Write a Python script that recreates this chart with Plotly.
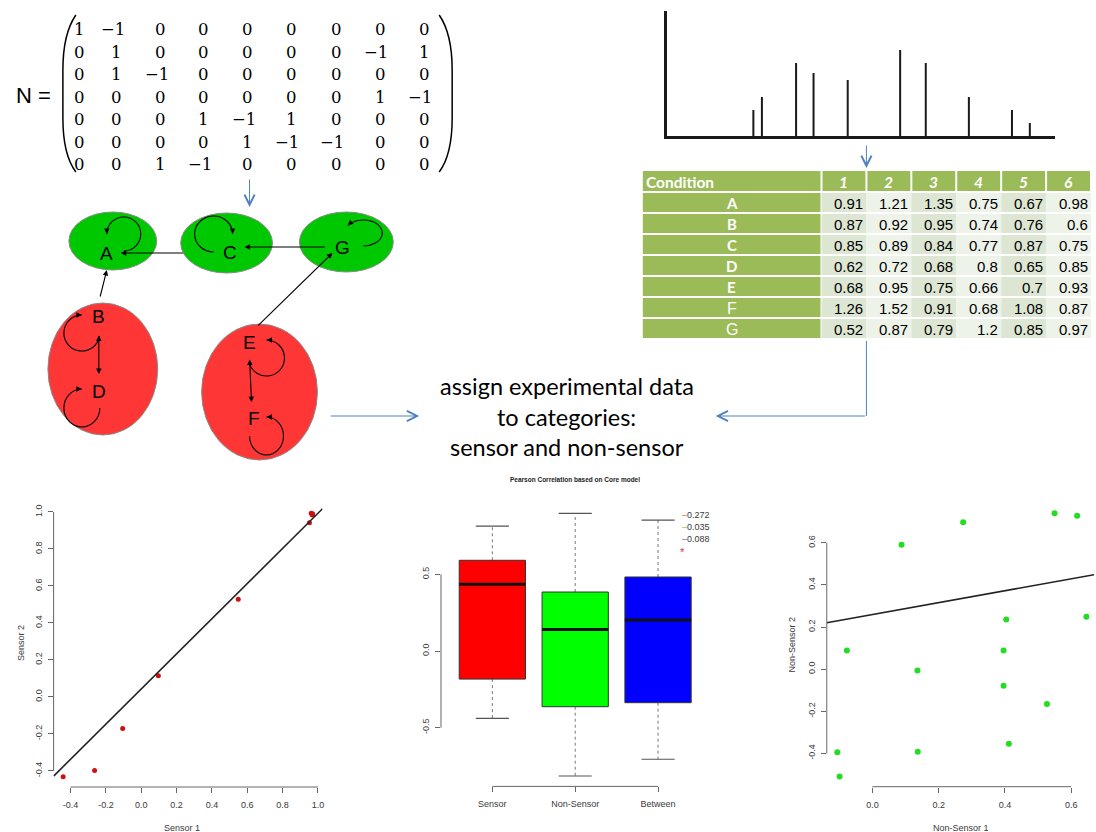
import math
import numpy as np
import plotly.graph_objects as go

W, H = 1096, 832

# ---------------------------------------------------------------- data
N_matrix = [
    [1, -1, 0, 0, 0, 0, 0, 0, 0],
    [0, 1, 0, 0, 0, 0, 0, -1, 1],
    [0, 1, -1, 0, 0, 0, 0, 0, 0],
    [0, 0, 0, 0, 0, 0, 0, 1, -1],
    [0, 0, 0, 1, -1, 1, 0, 0, 0],
    [0, 0, 0, 0, 1, -1, -1, 0, 0],
    [0, 0, 1, -1, 0, 0, 0, 0, 0],
]

spectrum_mz = [22.3, 24.5, 33.3, 37.8, 46.6, 60.1, 66.7, 77.8, 88.9, 93.5]
spectrum_intensity = [26, 39, 73, 63, 56, 86, 73, 39, 26, 13]

table_conditions = ["1", "2", "3", "4", "5", "6"]
table_species = ["A", "B", "C", "D", "E", "F", "G"]
table_values = [
    [0.91, 1.21, 1.35, 0.75, 0.67, 0.98],
    [0.87, 0.92, 0.95, 0.74, 0.76, 0.6],
    [0.85, 0.89, 0.84, 0.77, 0.87, 0.75],
    [0.62, 0.72, 0.68, 0.8, 0.65, 0.85],
    [0.68, 0.95, 0.75, 0.66, 0.7, 0.93],
    [1.26, 1.52, 0.91, 0.68, 1.08, 0.87],
    [0.52, 0.87, 0.79, 1.2, 0.85, 0.97],
]

sensor_1 = [-0.442, -0.264, -0.105, 0.097, 0.549, 0.952, 0.962, 0.970, 0.968]
sensor_2 = [-0.431, -0.398, -0.171, 0.115, 0.528, 0.942, 0.993, 0.990, 0.984]
sensor_fit = [0.043, 0.95]          # intercept, slope
sensor_xticks = [-0.4, -0.2, 0.0, 0.2, 0.4, 0.6, 0.8, 1.0]
sensor_xticklabels = ["-0.4", "-0.2", "0.0", "0.2", "0.4", "0.6", "0.8", "1.0"]
sensor_yticks = [-0.4, -0.2, 0.0, 0.2, 0.4, 0.6, 0.8, 1.0]
sensor_yticklabels = ["-0.4", "-0.2", "0.0", "0.2", "0.4", "0.6", "0.8", "1.0"]

box_groups = ["Sensor", "Non-Sensor", "Between"]
box_colors = ["#ff0000", "#00ff00", "#0000ff"]
box_lower = [-0.439, -0.815, -0.706]
box_q1 = [-0.183, -0.363, -0.337]
box_median = [0.435, 0.141, 0.202]
box_q3 = [0.592, 0.385, 0.483]
box_upper = [0.815, 0.898, 0.854]
box_legend_values = ["0.272", "0.035", "0.088"]
box_legend_colors = ["#e06060", "#60d060", "#6060d0"]
box_yticks = [-0.5, 0.0, 0.5]
box_yticklabels = ["-0.5", "0.0", "0.5"]

nonsensor_1 = [0.550, 0.618, 0.274, 0.088, 0.646, 0.404, -0.077, 0.396,
               0.136, 0.396, 0.527, 0.412, 0.137, -0.106, -0.099]
nonsensor_2 = [0.740, 0.728, 0.697, 0.590, 0.249, 0.236, 0.089, 0.089,
               -0.006, -0.079, -0.166, -0.354, -0.392, -0.395, -0.509]
nonsensor_fit = [0.259, 0.283]      # intercept, slope
nonsensor_xticks = [0.0, 0.2, 0.4, 0.6]
nonsensor_xticklabels = ["0.0", "0.2", "0.4", "0.6"]
nonsensor_yticks = [-0.4, -0.2, 0.0, 0.2, 0.4, 0.6]
nonsensor_yticklabels = ["-0.4", "-0.2", "0.0", "0.2", "0.4", "0.6"]

# ---------------------------------------------------------------- layout constants (pixels)
GREEN = "#00c800"
RED = "#ff3636"
BLUE = "#4f81bd"
TBL_GREEN = "#9bbb59"
TBL_DARK = "#dce6d2"
TBL_LIGHT = "#eef3ea"
R_AXIS = "#666666"
R_TEXT = "#3a3a3a"
RFONT = "Liberation Sans"
RSIZE = 9

matrix_col_x = [80, 117, 161, 204, 248, 292, 337, 381, 425]
matrix_row_y = [29, 52, 74, 97, 119, 142, 164]

compartments = [  # cx, cy, rx, ry, colour
    (113, 241, 44, 29, GREEN),
    (227, 243, 46, 30, GREEN),
    (347, 242, 47, 30, GREEN),
    (103, 369, 55, 66, RED),
    (260, 392, 58, 68, RED),
]
species_pos = {"A": (107, 253), "C": (230, 252), "G": (343, 247),
               "B": (99, 316), "D": (99, 391), "E": (250, 342), "F": (254, 418)}
edges = [  # tail, tip, double-headed
    ((185, 253), (121, 253), False),
    ((327, 247), (245, 247), False),
    ((100, 298), (107, 270), False),
    ((257, 327), (333, 253), False),
    ((99, 334), (99, 374), True),
    ((250, 358), (252, 402), True),
]
loops = [  # cx, cy, rx, ry, start angle, end angle (screen degrees)
    (124, 234, 17, 17, 90, -180),
    (214, 234, 19, 18, 90, 360),
    (364, 233, 19, 13, 90, -145),
    (82, 333, 18, 18, 10, 270),
    (82, 408, 18, 19, 0, 270),
    (267, 358, 18, 18, 165, -90),
    (267, 436, 17, 19, 180, -90),
]
blue_arrows = [  # tail, tip
    ((250, 178), (250, 207)),
    ((868, 144), (868, 168)),
    ((330, 416), (420, 416)),
    ((868, 416), (717, 416)),
]
blue_lines = [((868, 341), (868, 416))]

# table geometry
tbl_label_x = (644, 822)
tbl_col_x0 = 823
tbl_col_w = 45
tbl_header_y = (171, 191)
tbl_row_y0 = 193
tbl_row_pitch = 21
tbl_row_h = 19


def dx(a, b):
    return [a / W, b / W]


def dy(top, bottom):
    return [1 - bottom / H, 1 - top / H]


fig = go.Figure()
shapes = []
ann = []


def text(x, y, t, size, family, color="black", **kw):
    d = dict(x=x, y=y, text=t, showarrow=False, xref="x", yref="y",
             font=dict(family=family, size=size, color=color))
    d.update(kw)
    ann.append(d)


# ---------------------------------------------------------------- matrix N
text(34, 95, "N =", 22, "Liberation Sans")
for r, row in enumerate(N_matrix):
    for c, v in enumerate(row):
        txt = ("\u2212" + str(abs(v))) if v < 0 else str(v)
        text(matrix_col_x[c] - (4 if v < 0 else 0), matrix_row_y[r], txt, 16.5, "DejaVu Serif")
shapes.append(dict(type="path", xref="x", yref="y",
                   path="M 76,15 C 67,28 63,45 63,70 L 63,118 C 63,143 67,160 76,172",
                   line=dict(color="black", width=1.5)))
shapes.append(dict(type="path", xref="x", yref="y",
                   path="M 440,15 C 449,28 453,45 453,70 L 453,118 C 453,143 449,160 440,172",
                   line=dict(color="black", width=1.5)))

# ---------------------------------------------------------------- network
for cx, cy, rx, ry, col in compartments:
    shapes.append(dict(type="circle", xref="x", yref="y", x0=cx - rx, x1=cx + rx,
                       y0=cy - ry, y1=cy + ry, fillcolor=col,
                       line=dict(color="#8a8a8a", width=1), layer="below"))
for name, (x, y) in species_pos.items():
    text(x, y, name, 19, "Liberation Sans")
for (tx, ty), (hx, hy), dbl in edges:
    a = dict(x=hx, y=hy, ax=tx, ay=ty, xref="x", yref="y", axref="x", ayref="y",
             text="", showarrow=True, arrowhead=2, arrowsize=1, arrowwidth=1.1,
             arrowcolor="black")
    if dbl:
        a.update(arrowside="end+start", startarrowhead=2, startarrowsize=1)
    ann.append(a)


def arc(cx, cy, rx, ry, a0, a1):
    n = max(1, int(math.ceil(abs(a1 - a0) / 90.0)))
    step = (a1 - a0) / n
    t0 = math.radians(a0)
    path = "M %.2f,%.2f" % (cx + rx * math.cos(t0), cy + ry * math.sin(t0))
    for i in range(n):
        s = math.radians(a0 + i * step)
        e = math.radians(a0 + (i + 1) * step)
        k = 4.0 / 3.0 * math.tan((e - s) / 4.0)
        p1 = (math.cos(s) - k * math.sin(s), math.sin(s) + k * math.cos(s))
        p2 = (math.cos(e) + k * math.sin(e), math.sin(e) - k * math.cos(e))
        p3 = (math.cos(e), math.sin(e))
        path += " C %.2f,%.2f %.2f,%.2f %.2f,%.2f" % (
            cx + rx * p1[0], cy + ry * p1[1], cx + rx * p2[0], cy + ry * p2[1],
            cx + rx * p3[0], cy + ry * p3[1])
    e = math.radians(a1)
    sgn = 1 if a1 > a0 else -1
    d = (-rx * math.sin(e) * sgn, ry * math.cos(e) * sgn)
    L = math.hypot(*d)
    tip = (cx + rx * math.cos(e), cy + ry * math.sin(e))
    tail = (tip[0] - 6 * d[0] / L, tip[1] - 6 * d[1] / L)
    return path, tip, tail


for cx, cy, rx, ry, a0, a1 in loops:
    p, tip, tail = arc(cx, cy, rx, ry, a0, a1)
    shapes.append(dict(type="path", xref="x", yref="y", path=p,
                       line=dict(color="black", width=1.1)))
    ann.append(dict(x=tip[0], y=tip[1], ax=tail[0], ay=tail[1], xref="x", yref="y",
                    axref="x", ayref="y", text="", showarrow=True, arrowhead=2,
                    arrowsize=1, arrowwidth=1.1, arrowcolor="black"))

# blue connectors
for (tx, ty), (hx, hy) in blue_arrows:
    ann.append(dict(x=hx, y=hy, ax=tx, ay=ty, xref="x", yref="y", axref="x", ayref="y",
                    text="", showarrow=True, arrowhead=5, arrowsize=2, arrowwidth=1,
                    arrowcolor=BLUE))
for (x0, y0), (x1, y1) in blue_lines:
    shapes.append(dict(type="line", xref="x", yref="y", x0=x0, y0=y0, x1=x1, y1=y1,
                       line=dict(color=BLUE, width=1)))

# central text
for txt, y in [("assign experimental data", 386), ("to categories:", 417),
               ("sensor and non-sensor", 447)]:
    text(568, y, txt, 23.5, "Lato")

# ---------------------------------------------------------------- spectrum
sx, sy = [], []
for m, h in zip(spectrum_mz, spectrum_intensity):
    sx += [m, m, None]
    sy += [0, h, None]
fig.add_trace(go.Scatter(x=sx, y=sy, mode="lines", xaxis="x2", yaxis="y2",
                         line=dict(color="#1a1a1a", width=2), hoverinfo="skip"))

# ---------------------------------------------------------------- table (drawn cell by cell)
hy0, hy1 = tbl_header_y
shapes.append(dict(type="rect", xref="x", yref="y", x0=tbl_label_x[0], x1=tbl_label_x[1],
                   y0=hy0, y1=hy1, fillcolor=TBL_GREEN, line=dict(width=0), layer="below"))
text(tbl_label_x[0] + 1, (hy0 + hy1) / 2 + 1, "<b>Condition</b>", 15.5, "Lato", "white",
     xanchor="left")
for j, cond in enumerate(table_conditions):
    x0 = tbl_col_x0 + j * tbl_col_w
    shapes.append(dict(type="rect", xref="x", yref="y", x0=x0 + 1, x1=x0 + tbl_col_w - 1,
                       y0=hy0, y1=hy1, fillcolor=TBL_GREEN, line=dict(width=0), layer="below"))
    text(x0 + tbl_col_w / 2, (hy0 + hy1) / 2 + 1, "<b><i>%s</i></b>" % cond, 15.5, "Lato", "white")
for i, sp in enumerate(table_species):
    y0 = tbl_row_y0 + i * tbl_row_pitch
    y1 = y0 + tbl_row_h
    yc = (y0 + y1) / 2 + 0.5
    shapes.append(dict(type="rect", xref="x", yref="y", x0=tbl_label_x[0], x1=tbl_label_x[1],
                       y0=y0, y1=y1, fillcolor=TBL_GREEN, line=dict(width=0), layer="below"))
    if sp in ("F", "G"):
        text((tbl_label_x[0] + tbl_label_x[1]) / 2, yc, sp, 16, "Liberation Sans", "white")
    else:
        text((tbl_label_x[0] + tbl_label_x[1]) / 2, yc, "<b>%s</b>" % sp, 15, "Lato", "white")
    for j, v in enumerate(table_values[i]):
        x0 = tbl_col_x0 + j * tbl_col_w
        shapes.append(dict(type="rect", xref="x", yref="y", x0=x0, x1=x0 + tbl_col_w,
                           y0=y0, y1=y1, fillcolor=TBL_DARK if j % 2 == 0 else TBL_LIGHT,
                           line=dict(width=0), layer="below"))
        text(x0 + tbl_col_w - 1, yc, str(v), 15, "Liberation Sans", "black", xanchor="right")

# ---------------------------------------------------------------- sensor scatter
fig.add_trace(go.Scatter(x=sensor_1, y=sensor_2, mode="markers", xaxis="x3", yaxis="y3",
                         marker=dict(color="#cc1111", size=5), hoverinfo="skip"))
sx_rng = [-0.496, 1.026]
fx = np.array(sx_rng)
fig.add_trace(go.Scatter(x=fx, y=sensor_fit[0] + sensor_fit[1] * fx, mode="lines",
                         xaxis="x3", yaxis="y3", line=dict(color="#222", width=1.6),
                         hoverinfo="skip"))

# ---------------------------------------------------------------- box plot
for i, g in enumerate(box_groups):
    c = i + 1
    hw = 0.4
    fig.add_trace(go.Scatter(x=[c, c, None, c, c],
                             y=[box_q3[i], box_upper[i], None, box_q1[i], box_lower[i]],
                             mode="lines", xaxis="x4", yaxis="y4",
                             line=dict(color="#777", width=1, dash="3px,3px"), hoverinfo="skip"))
    fig.add_trace(go.Scatter(x=[c - hw / 2, c + hw / 2, None, c - hw / 2, c + hw / 2],
                             y=[box_upper[i], box_upper[i], None, box_lower[i], box_lower[i]],
                             mode="lines", xaxis="x4", yaxis="y4",
                             line=dict(color="#555", width=1.2), hoverinfo="skip"))
    fig.add_trace(go.Scatter(x=[c - hw, c + hw, c + hw, c - hw, c - hw],
                             y=[box_q1[i], box_q1[i], box_q3[i], box_q3[i], box_q1[i]],
                             mode="lines", fill="toself", fillcolor=box_colors[i],
                             xaxis="x4", yaxis="y4", line=dict(color="#333", width=1),
                             hoverinfo="skip"))
    fig.add_trace(go.Scatter(x=[c - hw, c + hw], y=[box_median[i], box_median[i]],
                             mode="lines", xaxis="x4", yaxis="y4",
                             line=dict(color="#111", width=3), hoverinfo="skip"))

# ---------------------------------------------------------------- non-sensor scatter
fig.add_trace(go.Scatter(x=nonsensor_1, y=nonsensor_2, mode="markers", xaxis="x5", yaxis="y5",
                         marker=dict(color="#22dd22", size=6), hoverinfo="skip"))
nx_rng = [-0.1377, 0.669]
fx = np.array(nx_rng)
fig.add_trace(go.Scatter(x=fx, y=nonsensor_fit[0] + nonsensor_fit[1] * fx, mode="lines",
                         xaxis="x5", yaxis="y5", line=dict(color="#222", width=1.6),
                         hoverinfo="skip"))


# ---------------------------------------------------------------- R-style axes
def r_axis(domain, rng, ticks, labels, anchor, vertical=False):
    d = dict(domain=domain, range=rng, anchor=anchor, showgrid=False, zeroline=False,
             showline=False, ticks="outside", ticklen=5, tickwidth=1, tickcolor=R_AXIS,
             tickvals=ticks, ticktext=labels, fixedrange=True,
             tickfont=dict(family=RFONT, size=RSIZE, color=R_TEXT))
    if vertical:
        d.update(tickangle=-90, ticklabelstandoff=2)
    else:
        d.update(ticklabelstandoff=4)
    return d


def r_lines(xr, yr, xticks, yticks):
    shapes.append(dict(type="line", xref=xr, yref=yr + " domain", x0=min(xticks), x1=max(xticks),
                       y0=0, y1=0, line=dict(color=R_AXIS, width=1)))
    shapes.append(dict(type="line", xref=xr + " domain", yref=yr, x0=0, x1=0,
                       y0=min(yticks), y1=max(yticks), line=dict(color=R_AXIS, width=1)))


r_lines("x3", "y3", sensor_xticks, sensor_yticks)
r_lines("x4", "y4", [1, 2, 3], box_yticks)
r_lines("x5", "y5", nonsensor_xticks, nonsensor_yticks)

for txt, x, y, ang in [("Sensor 1", 182, 828, 0), ("Sensor 2", 21, 643, -90),
                       ("Non-Sensor 1", 963, 828, 0), ("Non-Sensor 2", 793, 645, -90)]:
    text(x, y, txt, RSIZE, RFONT, R_TEXT, textangle=ang)
text(576, 479, "<b>Pearson Correlation based on Core model</b>", 6.5, RFONT, "#222")
for k, (v, col) in enumerate(zip(box_legend_values, box_legend_colors)):
    text(681, 515 + 12 * k, "<span style='color:%s'>\u2013</span>%s" % (col, v), RSIZE, RFONT,
         R_TEXT, xanchor="left")
text(684, 552, "*", 11, RFONT, "#e03030")

hidden = dict(visible=False, showgrid=False, zeroline=False, fixedrange=True)
spec_ax = dict(showline=True, linecolor="#1a1a1a", linewidth=2.5, showticklabels=False,
               ticks="", showgrid=False, zeroline=False, fixedrange=True)

fig.update_layout(
    width=W, height=H, autosize=False, margin=dict(l=0, r=0, t=0, b=0),
    paper_bgcolor="white", plot_bgcolor="rgba(0,0,0,0)", showlegend=False,
    xaxis=dict(domain=[0, 1], range=[0, W], **hidden),
    yaxis=dict(domain=[0, 1], range=[H, 0], **hidden),
    xaxis2=dict(domain=dx(668, 1057), range=[0, 100], anchor="y2", **spec_ax),
    yaxis2=dict(domain=dy(11, 136), range=[0, 125], anchor="x2", **spec_ax),
    xaxis3=r_axis(dx(53.7, 323.1), sx_rng, sensor_xticks, sensor_xticklabels, "y3"),
    yaxis3=r_axis(dy(503.3, 787), [-0.487, 1.047], sensor_yticks, sensor_yticklabels, "x3", True),
    xaxis4=r_axis(dx(441.8, 710.7), [0.38, 3.62], [1, 2, 3], box_groups, "y4"),
    yaxis4=r_axis(dy(502.8, 786.4), [-0.883, 0.967], box_yticks, box_yticklabels, "x4", True),
    xaxis5=r_axis(dx(828.3, 1096), nx_rng, nonsensor_xticks, nonsensor_xticklabels, "y5"),
    yaxis5=r_axis(dy(502.7, 786.7), [-0.558, 0.79], nonsensor_yticks, nonsensor_yticklabels, "x5", True),
    shapes=shapes, annotations=ann,
)

fig.write_html("out.html", config={"displayModeBar": False, "staticPlot": True},
               post_script="document.body.style.margin='0px';document.body.style.overflow='hidden';")
